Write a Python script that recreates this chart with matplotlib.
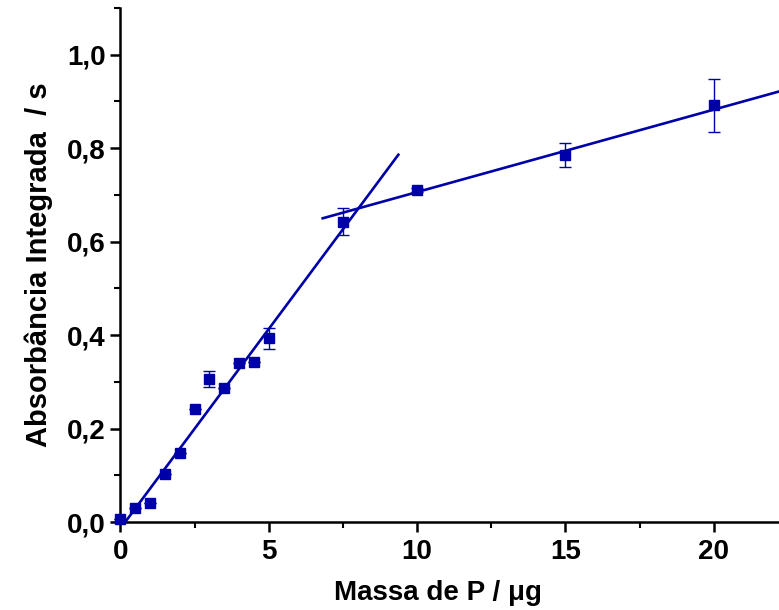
import matplotlib
matplotlib.use("Agg")
import matplotlib.pyplot as plt
from matplotlib.ticker import MultipleLocator, FuncFormatter

# Data
mass = [0, 0.5, 1, 1.5, 2, 2.5, 3, 3.5, 4, 4.5, 5, 7.5, 10, 15, 20]
absorb = [0.006, 0.031, 0.040, 0.103, 0.147, 0.243, 0.307, 0.286, 0.341, 0.343,
          0.393, 0.643, 0.710, 0.786, 0.892]
err = [0, 0, 0, 0, 0, 0, 0.017, 0, 0, 0, 0.023, 0.029, 0.004, 0.026, 0.057]

fit1_x = [0.0, 9.37]
fit1_y = [-0.0137, 0.786]
fit2_x = [6.82, 22.3]
fit2_y = [0.650, 0.923]

col = '#0000A8'

plt.rcParams['font.family'] = ['Liberation Sans', 'DejaVu Sans']
plt.rcParams['font.weight'] = 'bold'

fig = plt.figure(figsize=(7.79, 6.10), dpi=100)
ax = fig.add_axes([0.1545, 0.144, 0.8455, 0.843])

ax.plot(fit1_x, fit1_y, color=col, lw=1.9, zorder=2)
ax.plot(fit2_x, fit2_y, color=col, lw=1.9, zorder=2)
ax.errorbar(mass, absorb, yerr=err, fmt='s', color=col, ms=7.8, mec=col, mfc=col,
            ecolor=col, elinewidth=1.0, capsize=4, capthick=1.0, zorder=3,
            clip_on=False)

ax.set_xlim(0, 22.2)
ax.set_ylim(0, 1.1)

ax.spines['top'].set_visible(False)
ax.spines['right'].set_visible(False)
for s in ['left', 'bottom']:
    ax.spines[s].set_linewidth(1.8)

ax.xaxis.set_major_locator(MultipleLocator(5))
ax.xaxis.set_minor_locator(MultipleLocator(2.5))
ax.yaxis.set_major_locator(MultipleLocator(0.2))
ax.yaxis.set_minor_locator(MultipleLocator(0.1))
ax.yaxis.set_major_formatter(FuncFormatter(lambda v, p: f"{v:.1f}".replace('.', ',')))
ax.tick_params(which='major', direction='out', length=7, width=1.8, labelsize=20)
ax.tick_params(axis='x', which='major', pad=5)
ax.tick_params(axis='y', which='major', pad=3.5)
ax.tick_params(which='minor', direction='out', length=4, width=1.5)
for lab in ax.get_xticklabels() + ax.get_yticklabels():
    lab.set_fontweight('bold')

ax.set_xlabel('Massa de P / μg', fontsize=20, fontweight='bold', labelpad=10)
ax.xaxis.set_label_coords(0.482, -0.113)
ax.xaxis.label.set_verticalalignment('top')
ax.set_ylabel('Absorbância Integrada  / s', fontsize=21, fontweight='bold', labelpad=10)

fig.savefig('out.png', dpi=100)
